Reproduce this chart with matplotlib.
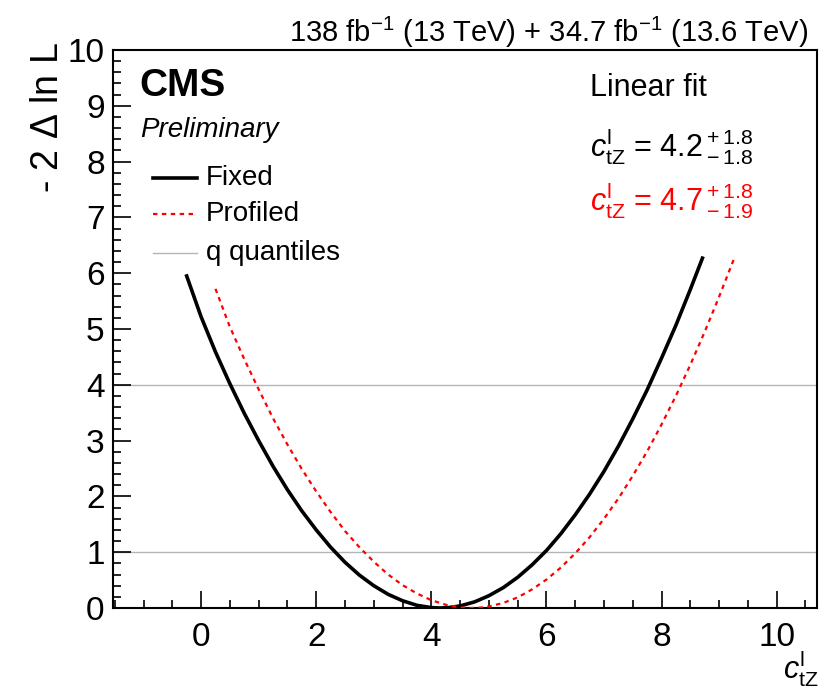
import matplotlib
matplotlib.use("Agg")
import matplotlib.pyplot as plt
from matplotlib.ticker import MultipleLocator

plt.rcParams['font.family'] = ['Liberation Sans', 'DejaVu Sans']
plt.rcParams['mathtext.fontset'] = 'custom'
plt.rcParams['mathtext.rm'] = 'Liberation Sans'
plt.rcParams['mathtext.it'] = 'Liberation Sans:italic'
plt.rcParams['mathtext.bf'] = 'Liberation Sans:bold'

# scan values
fixed_x = [-0.25, 0.0, 0.25, 0.5, 0.75, 1.0, 1.25, 1.5, 1.75, 2.0, 2.25, 2.5,
           2.75, 3.0, 3.25, 3.5, 3.75, 4.0, 4.15, 4.3, 4.5, 4.75, 5.0, 5.25,
           5.5, 5.75, 6.0, 6.25, 6.5, 6.75, 7.0, 7.25, 7.5, 7.75, 8.0, 8.25,
           8.5, 8.71]
fixed_y = [5.95, 5.22, 4.59, 4.02, 3.49, 3.0, 2.54, 2.12, 1.74, 1.40, 1.09, 0.82,
           0.59, 0.40, 0.245, 0.13, 0.048, 0.007, 0.0, 0.007, 0.037, 0.109, 0.22, 0.365,
           0.55, 0.773, 1.03, 1.331, 1.67, 2.041, 2.45, 2.90, 3.39, 3.91, 4.48, 5.07,
           5.71, 6.27]

prof_x = [0.25, 0.5, 0.75, 1.0, 1.25, 1.5, 1.75, 2.0, 2.25, 2.5, 2.75, 3.0,
          3.25, 3.5, 3.75, 4.0, 4.25, 4.5, 4.7, 4.85, 5.0, 5.25, 5.5, 5.75,
          6.0, 6.25, 6.5, 6.75, 7.0, 7.25, 7.5, 7.75, 8.0, 8.25, 8.5, 8.75,
          9.0, 9.27]
prof_y = [5.72, 5.04, 4.46, 3.92, 3.40, 2.93, 2.49, 2.09, 1.72, 1.38, 1.09, 0.83,
          0.60, 0.41, 0.26, 0.14, 0.058, 0.011, 0.0, 0.007, 0.027, 0.091, 0.19, 0.333,
          0.51, 0.725, 0.98, 1.269, 1.60, 1.963, 2.37, 2.808, 3.29, 3.805, 4.36, 4.952,
          5.58, 6.29]

quantiles = [1, 4]

fig = plt.figure(figsize=(8.21, 6.89), dpi=100)
ax = fig.add_axes([113/821, 1 - 608/689, 704/821, 558/689])

for q in quantiles:
    ax.axhline(q, color='#b4b4b4', lw=1.0, zorder=1)
ax.plot(fixed_x, fixed_y, color='black', lw=2.6, zorder=3)
ax.plot(prof_x, prof_y, color='red', lw=1.6, ls=(0, (2, 2)), zorder=3)

ax.set_xlim(-1.53, 10.7)
ax.set_ylim(0, 10)
ax.xaxis.set_major_locator(MultipleLocator(2))
ax.xaxis.set_minor_locator(MultipleLocator(0.5))
ax.yaxis.set_major_locator(MultipleLocator(1))
ax.yaxis.set_minor_locator(MultipleLocator(0.2))
ax.tick_params(which='both', direction='in', top=False, right=False,
               labelsize=24, width=1.2)
ax.tick_params(axis='x', which='major', length=12, pad=10)
ax.tick_params(axis='y', which='major', length=13, pad=6)
ax.tick_params(which='minor', length=6)
for s in ax.spines.values():
    s.set_linewidth(1.5)

# CMS labels
ax.text(0.038, 0.935, 'CMS', transform=ax.transAxes, fontsize=28,
        fontweight='bold', va='center', ha='left')
ax.text(0.038, 0.857, 'Preliminary', transform=ax.transAxes, fontsize=20,
        style='italic', va='center', ha='left')

# legend drawn by hand
leg_y = [0.7706, 0.706, 0.636]
ax.plot([0.0568, 0.119], [leg_y[0]] * 2, transform=ax.transAxes, color='black', lw=2.6)
ax.plot([0.0568, 0.119], [leg_y[1]] * 2, transform=ax.transAxes, color='red', lw=1.6,
        ls=(0, (2, 2)))
ax.plot([0.0568, 0.119], [leg_y[2]] * 2, transform=ax.transAxes, color='#b4b4b4', lw=1.0)
for y, lab in zip(leg_y, ['Fixed', 'Profiled', 'q quantiles']):
    ax.text(0.132, y, lab, transform=ax.transAxes, fontsize=20, va='center', ha='left')

# fit results
ax.text(0.6776, 0.932, 'Linear fit', transform=ax.transAxes, fontsize=22,
        va='center', ha='left')
ax.text(0.6776, 0.826, r'$c^{\mathrm{l}}_{\mathrm{tZ}}$ = 4.2$\,^{+\,1.8}_{-\,1.8}$',
        transform=ax.transAxes, fontsize=22, va='center', ha='left')
ax.text(0.6776, 0.729, r'$c^{\mathrm{l}}_{\mathrm{tZ}}$ = 4.7$\,^{+\,1.8}_{-\,1.9}$',
        transform=ax.transAxes, fontsize=22, va='center', ha='left', color='red')

# titles / axis labels
fig.text(808/821, 1 - 42/689,
         r'138 fb$^{\mathrm{-1}}$ (13 TeV) + 34.7 fb$^{\mathrm{-1}}$ (13.6 TeV)',
         fontsize=21, ha='right', va='baseline')
fig.text(48/821, 1 - 42/689, r'- 2 $\Delta$ ln L', rotation=90, fontsize=27,
         ha='center', va='top')
fig.text(819/821, 0.0, r'$c^{\mathrm{l}}_{\mathrm{tZ}}$', fontsize=22,
         ha='right', va='bottom')

fig.savefig('out.png', dpi=100)
